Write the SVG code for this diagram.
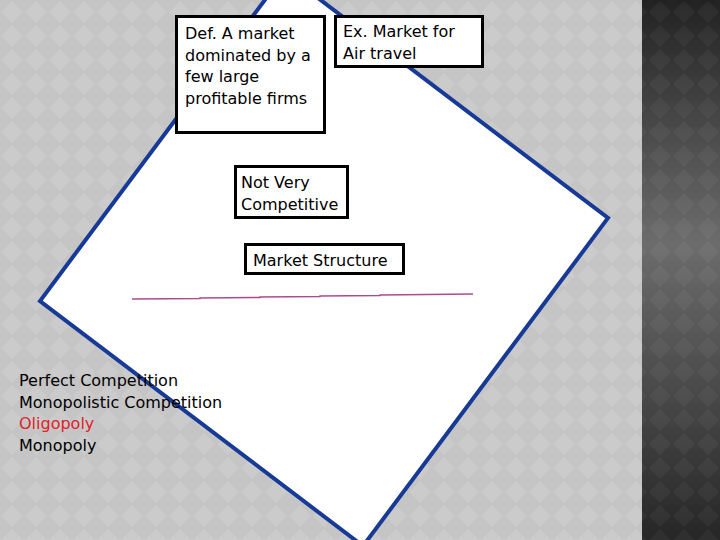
<svg xmlns="http://www.w3.org/2000/svg" width="720" height="540" viewBox="0 0 720 540">
<defs>
<pattern id="dia" width="24" height="24" patternUnits="userSpaceOnUse">
<rect width="24" height="24" fill="#c5c5c5"/>
<polygon points="12,1 23,12 12,23 1,12" fill="#cbcbcb"/>
</pattern>
<pattern id="diaDark" width="24" height="24" patternUnits="userSpaceOnUse">
<rect width="24" height="24" fill="#000" fill-opacity="0"/>
<polygon points="12,1 23,12 12,23 1,12" fill="#fff" fill-opacity="0.04"/>
</pattern>
<linearGradient id="strip" x1="0" y1="0" x2="0" y2="1">
<stop offset="0" stop-color="#222"/>
<stop offset="0.45" stop-color="#6c6c6c"/>
<stop offset="1" stop-color="#262626"/>
</linearGradient>
<style>
.box{fill:#fff;stroke:#000;stroke-width:3}
.t{font-family:"DejaVu Sans","Liberation Sans",sans-serif;font-size:16px;fill:#000}
.red{fill:#e0202a}
</style>
</defs>
<rect width="720" height="540" fill="url(#dia)"/>
<rect x="642" width="78" height="540" fill="url(#strip)"/>
<rect x="642" width="78" height="540" fill="url(#diaDark)"/>
<g id="diamond">
<polygon points="285,-27 608,218 363,546 40,301" fill="#fff" stroke="#173a97" stroke-width="4"/>
</g>
<g id="connectors">
<polyline points="132,299 200,298.5 200,298 260,297.5 260,297 320,296.5 320,296 380,295.5 380,295 473,294" fill="none" stroke="#b04a90" stroke-width="1.5"/>
</g>
<g id="def">
<rect class="box" x="176.5" y="16.5" width="148" height="116"/>
<text class="t" x="185" y="39">Def. A market</text>
<text class="t" x="185" y="61">dominated by a</text>
<text class="t" x="185" y="82">few large</text>
<text class="t" x="185" y="104">profitable firms</text>
</g>
<g id="example">
<rect class="box" x="335.5" y="16.5" width="147" height="50"/>
<text class="t" x="343" y="37">Ex. Market for</text>
<text class="t" x="343" y="59">Air travel</text>
</g>
<g id="notvery">
<rect class="box" x="235.5" y="166.5" width="112" height="51"/>
<text class="t" x="241" y="188">Not Very</text>
<text class="t" x="241" y="210">Competitive</text>
</g>
<g id="structure">
<rect class="box" x="245.5" y="244.5" width="158" height="29"/>
<text class="t" x="253" y="266">Market Structure</text>
</g>
<g id="list">
<text class="t" x="19" y="386">Perfect Competition</text>
<text class="t" x="19" y="408">Monopolistic Competition</text>
<text class="t red" x="19" y="429">Oligopoly</text>
<text class="t" x="19" y="451">Monopoly</text>
</g>
</svg>
